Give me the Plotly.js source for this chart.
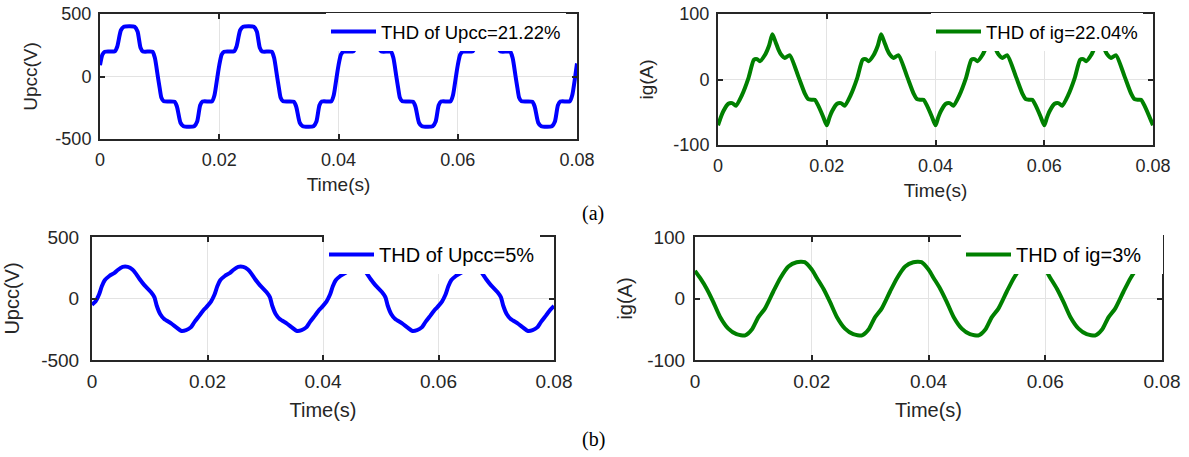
<!DOCTYPE html>
<html>
<head>
<meta charset="utf-8">
<script src="https://cdn.plot.ly/plotly-3.0.1.min.js"></script>
<style>
  html, body { margin: 0; padding: 0; background: #ffffff; }
  #chart { width: 1189px; height: 457px; }
</style>
</head>
<body>
<div id="chart"></div>
<script>
// ---------------- DATA ----------------
// (a) Upcc without compensation
const timeUpccA = [
  0, 0.0004, 0.0008, 0.0025, 0.0029, 0.0035, 0.004, 0.005, 0.0058, 0.0063, 0.0068, 0.0072, 0.0088, 0.0092, 0.0097, 0.01, 0.0103, 0.0107, 0.0125, 0.0129, 0.0135, 0.014, 0.015, 0.0158, 0.0163, 0.0168, 0.0172, 0.0188, 0.0192, 0.0197,
  0.02, 0.0204, 0.0208, 0.0225, 0.0229, 0.0235, 0.024, 0.025, 0.0258, 0.0263, 0.0268, 0.0272, 0.0288, 0.0292, 0.0297, 0.03, 0.0303, 0.0307, 0.0325, 0.0329, 0.0335, 0.034, 0.035, 0.0358, 0.0363, 0.0368, 0.0372, 0.0388, 0.0392, 0.0397,
  0.04, 0.0404, 0.0408, 0.0425, 0.0429, 0.0435, 0.044, 0.045, 0.0458, 0.0463, 0.0468, 0.0472, 0.0488, 0.0492, 0.0497, 0.05, 0.0503, 0.0507, 0.0525, 0.0529, 0.0535, 0.054, 0.055, 0.0558, 0.0563, 0.0568, 0.0572, 0.0588, 0.0592, 0.0597,
  0.06, 0.0604, 0.0608, 0.0625, 0.0629, 0.0635, 0.064, 0.065, 0.0658, 0.0663, 0.0668, 0.0672, 0.0688, 0.0692, 0.0697, 0.07, 0.0703, 0.0707, 0.0725, 0.0729, 0.0735, 0.074, 0.075, 0.0758, 0.0763, 0.0768, 0.0772, 0.0788, 0.0792, 0.0797, 0.08
];
const upccA = [
  90, 175, 198, 202, 240, 370, 398, 402, 398, 360, 230, 200, 198, 150, 0, -90, -170, -198, -202, -240, -370, -398, -402, -398, -360, -230, -200, -198, -150, 0,
  90, 175, 198, 202, 240, 370, 398, 402, 398, 360, 230, 200, 198, 150, 0, -90, -170, -198, -202, -240, -370, -398, -402, -398, -360, -230, -200, -198, -150, 0,
  90, 175, 198, 202, 240, 370, 398, 402, 398, 360, 230, 200, 198, 150, 0, -90, -170, -198, -202, -240, -370, -398, -402, -398, -360, -230, -200, -198, -150, 0,
  90, 175, 198, 202, 240, 370, 398, 402, 398, 360, 230, 200, 198, 150, 0, -90, -170, -198, -202, -240, -370, -398, -402, -398, -360, -230, -200, -198, -150, 0, 105
];

// (a) ig without compensation
const timeIgA = [
  0, 0.0005, 0.001, 0.0019, 0.0026, 0.0033, 0.0044, 0.0056, 0.0066, 0.0072, 0.0077, 0.0086, 0.0094, 0.01, 0.0106, 0.0111, 0.0116, 0.0123, 0.0132, 0.0148, 0.016, 0.0166, 0.0172, 0.0178, 0.0185, 0.0193,
  0.02, 0.0205, 0.021, 0.0219, 0.0226, 0.0233, 0.0244, 0.0256, 0.0266, 0.0272, 0.0277, 0.0286, 0.0294, 0.03, 0.0306, 0.0311, 0.0316, 0.0323, 0.0332, 0.0348, 0.036, 0.0366, 0.0372, 0.0378, 0.0385, 0.0393,
  0.04, 0.0405, 0.041, 0.0419, 0.0426, 0.0433, 0.0444, 0.0456, 0.0466, 0.0472, 0.0477, 0.0486, 0.0494, 0.05, 0.0506, 0.0511, 0.0516, 0.0523, 0.0532, 0.0548, 0.056, 0.0566, 0.0572, 0.0578, 0.0585, 0.0593,
  0.06, 0.0605, 0.061, 0.0619, 0.0626, 0.0633, 0.0644, 0.0656, 0.0666, 0.0672, 0.0677, 0.0686, 0.0694, 0.07, 0.0706, 0.0711, 0.0716, 0.0723, 0.0732, 0.0748, 0.076, 0.0766, 0.0772, 0.0778, 0.0785, 0.0793, 0.08
];
const igA = [
  -70, -58, -48, -37, -36, -40, -24, 2, 30, 31, 28, 37, 52, 69, 57, 46, 38, 33, 37, 4, -22, -30, -31, -31, -41, -56,
  -70, -58, -48, -37, -36, -40, -24, 2, 30, 31, 28, 37, 52, 69, 57, 46, 38, 33, 37, 4, -22, -30, -31, -31, -41, -56,
  -70, -58, -48, -37, -36, -40, -24, 2, 30, 31, 28, 37, 52, 69, 57, 46, 38, 33, 37, 4, -22, -30, -31, -31, -41, -56,
  -70, -58, -48, -37, -36, -40, -24, 2, 30, 31, 28, 37, 52, 69, 57, 46, 38, 33, 37, 4, -22, -30, -31, -31, -41, -56, -70
];

// (b) Upcc with compensation
const timeUpccB = [
  0, 0.0006, 0.0012, 0.0017, 0.0022, 0.003, 0.0039, 0.0044, 0.0053, 0.0062, 0.007, 0.0076, 0.0082, 0.0091, 0.0102, 0.0108, 0.0112, 0.0118, 0.0125, 0.0137, 0.0146, 0.0154, 0.0163, 0.0171, 0.0177, 0.0186, 0.0194,
  0.02, 0.0206, 0.0212, 0.0217, 0.0222, 0.023, 0.0239, 0.0244, 0.0253, 0.0262, 0.027, 0.0276, 0.0282, 0.0291, 0.0302, 0.0308, 0.0312, 0.0318, 0.0325, 0.0337, 0.0346, 0.0354, 0.0363, 0.0371, 0.0377, 0.0386, 0.0394,
  0.04, 0.0406, 0.0412, 0.0417, 0.0422, 0.043, 0.0439, 0.0444, 0.0453, 0.0462, 0.047, 0.0476, 0.0482, 0.0491, 0.0502, 0.0508, 0.0512, 0.0518, 0.0525, 0.0537, 0.0546, 0.0554, 0.0563, 0.0571, 0.0577, 0.0586, 0.0594,
  0.06, 0.0606, 0.0612, 0.0617, 0.0622, 0.063, 0.0639, 0.0644, 0.0653, 0.0662, 0.067, 0.0676, 0.0682, 0.0691, 0.0702, 0.0708, 0.0712, 0.0718, 0.0725, 0.0737, 0.0746, 0.0754, 0.0763, 0.0771, 0.0777, 0.0786, 0.0794, 0.08
];
const upccB = [
  -50, -25, 30, 100, 148, 183, 208, 230, 257, 257, 235, 202, 161, 107, 52, 11, -57, -126, -167, -202, -235, -262, -257, -235, -194, -139, -90,
  -60, -25, 30, 100, 148, 183, 208, 230, 257, 257, 235, 202, 161, 107, 52, 11, -57, -126, -167, -202, -235, -262, -257, -235, -194, -139, -90,
  -60, -25, 30, 100, 148, 183, 208, 230, 257, 257, 235, 202, 161, 107, 52, 11, -57, -126, -167, -202, -235, -262, -257, -235, -194, -139, -90,
  -60, -25, 30, 100, 148, 183, 208, 230, 257, 257, 235, 202, 161, 107, 52, 11, -57, -126, -167, -202, -235, -262, -257, -235, -194, -139, -90, -60
];

// (b) ig with compensation
const timeIgB = [
  0, 0.0009, 0.002, 0.0031, 0.0043, 0.0057, 0.0071, 0.0086, 0.0097, 0.0108, 0.012, 0.0134, 0.0146, 0.016, 0.0174, 0.0188,
  0.02, 0.0209, 0.022, 0.0231, 0.0243, 0.0257, 0.0271, 0.0286, 0.0297, 0.0308, 0.032, 0.0334, 0.0346, 0.036, 0.0374, 0.0388,
  0.04, 0.0409, 0.042, 0.0431, 0.0443, 0.0457, 0.0471, 0.0486, 0.0497, 0.0508, 0.052, 0.0534, 0.0546, 0.056, 0.0574, 0.0588,
  0.06, 0.0609, 0.062, 0.0631, 0.0643, 0.0657, 0.0671, 0.0686, 0.0697, 0.0708, 0.072, 0.0734, 0.0746, 0.076, 0.0774, 0.0788, 0.08
];
const igB = [
  45, 33, 16, -5, -30, -49, -58, -60, -51, -31, -16, 11, 33, 52, 59, 59,
  47, 33, 16, -5, -30, -49, -58, -60, -51, -31, -16, 11, 33, 52, 59, 59,
  47, 33, 16, -5, -30, -49, -58, -60, -51, -31, -16, 11, 33, 52, 59, 59,
  47, 33, 16, -5, -30, -49, -58, -60, -51, -31, -16, 11, 33, 52, 59, 59, 48
];

const legendNames = ['THD of Upcc=21.22%', 'THD of ig=22.04%', 'THD of Upcc=5%', 'THD of ig=3%'];
const xTickVals = [0, 0.02, 0.04, 0.06, 0.08];
const xTickText = ['0', '0.02', '0.04', '0.06', '0.08'];
const upccTickVals = [-500, 0, 500];
const upccTickText = ['-500', '0', '500'];
const igTickVals = [-100, 0, 100];
const igTickText = ['-100', '0', '100'];
const xTitle = 'Time(s)';
const upccTitle = 'Upcc(V)';
const igTitle = 'ig(A)';
const panelLabels = ['(a)', '(b)'];

// ---------------- STYLE / LAYOUT ----------------
const W = 1189, H = 457;
const BLUE = '#0000ff', GREEN = '#008000';
const FONT = 'Liberation Sans, Arial, sans-serif';
const AX = '#262626';
// invisible padding so the white legend box of panel (b)-right reaches the plot edge
const PAD4 = '\u00a0\u00a0\u00a0';

function px2x(p) { return p / W; }
function px2y(p) { return 1 - p / H; }

const traces = [
  { x: timeUpccA, y: upccA, xaxis: 'x', yaxis: 'y', legend: 'legend', color: BLUE, name: legendNames[0] },
  { x: timeIgA, y: igA, xaxis: 'x2', yaxis: 'y2', legend: 'legend2', color: GREEN, name: legendNames[1] },
  { x: timeUpccB, y: upccB, xaxis: 'x3', yaxis: 'y3', legend: 'legend3', color: BLUE, name: legendNames[2] },
  { x: timeIgB, y: igB, xaxis: 'x4', yaxis: 'y4', legend: 'legend4', color: GREEN, name: legendNames[3] + PAD4 }
].map(t => ({
  type: 'scatter', mode: 'lines', x: t.x, y: t.y, xaxis: t.xaxis, yaxis: t.yaxis,
  legend: t.legend, name: t.name, showlegend: true,
  line: { color: t.color, width: 4, shape: 'spline', smoothing: 0.6 }
}));

function xAxis(dom, anchor, fs, standoff) {
  return {
    domain: dom, anchor: anchor, range: [0, 0.08],
    tickmode: 'array', tickvals: xTickVals, ticktext: xTickText,
    ticks: 'inside', ticklen: 5, tickwidth: 2, tickcolor: AX,
    showline: true, linecolor: AX, linewidth: 2, mirror: 'ticks',
    showgrid: true, gridcolor: '#e3e3e3', gridwidth: 1, zeroline: false,
    ticklabelstandoff: 3,
    tickfont: { family: FONT, size: fs, color: AX },
    title: { text: xTitle, font: { family: FONT, size: fs + 1, color: AX }, standoff: standoff },
    automargin: false, fixedrange: true
  };
}
function yAxis(dom, anchor, range, vals, text, title, fs, labelOff, standoff) {
  return {
    domain: dom, anchor: anchor, range: range,
    tickmode: 'array', tickvals: vals, ticktext: text,
    ticks: 'inside', ticklen: 5, tickwidth: 2, tickcolor: AX,
    showline: true, linecolor: AX, linewidth: 2, mirror: 'ticks',
    showgrid: true, gridcolor: '#e3e3e3', gridwidth: 1, zeroline: false,
    ticklabelstandoff: labelOff,
    tickfont: { family: FONT, size: fs, color: AX },
    title: { text: title, font: { family: FONT, size: fs + 1, color: AX }, standoff: standoff },
    automargin: false, fixedrange: true
  };
}
function legendAt(xpx, ypx, fs) {
  return {
    x: px2x(xpx), y: px2y(ypx), xanchor: 'left', yanchor: 'top',
    bgcolor: '#ffffff', borderwidth: 0, itemwidth: 45,
    font: { family: FONT, size: fs, color: '#000000' }
  };
}

const layout = {
  width: W, height: H,
  margin: { l: 0, r: 0, t: 0, b: 0, pad: 0 },
  paper_bgcolor: '#ffffff', plot_bgcolor: '#ffffff',
  showlegend: true,
  xaxis: xAxis([px2x(100), px2x(577)], 'y', 18, 9),
  yaxis: yAxis([px2y(139), px2y(14)], 'x', [-500, 500], upccTickVals, upccTickText, upccTitle, 18, 3, 13),
  xaxis2: xAxis([px2x(718), px2x(1153)], 'y2', 18, 9),
  yaxis2: yAxis([px2y(145), px2y(14)], 'x2', [-100, 100], igTickVals, igTickText, igTitle, 18, 3, 15),
  xaxis3: xAxis([px2x(92), px2x(554)], 'y3', 19, 12),
  yaxis3: yAxis([px2y(360), px2y(237)], 'x3', [-500, 500], upccTickVals, upccTickText, upccTitle, 19, 7, 16),
  xaxis4: xAxis([px2x(695), px2x(1162)], 'y4', 19, 12),
  yaxis4: yAxis([px2y(360), px2y(237)], 'x4', [-100, 100], igTickVals, igTickText, igTitle, 19, 4, 9),
  legend: legendAt(326, 13, 18.5),
  legend2: legendAt(931, 13, 18.5),
  legend3: legendAt(324, 235, 20),
  legend4: legendAt(961, 235, 20),
  annotations: [
    { text: panelLabels[0], xref: 'paper', yref: 'paper', x: px2x(593), y: px2y(213), showarrow: false,
      xanchor: 'center', yanchor: 'middle', font: { family: 'Liberation Serif, Times New Roman, serif', size: 20, color: '#000' } },
    { text: panelLabels[1], xref: 'paper', yref: 'paper', x: px2x(593), y: px2y(439), showarrow: false,
      xanchor: 'center', yanchor: 'middle', font: { family: 'Liberation Serif, Times New Roman, serif', size: 20, color: '#000' } }
  ]
};

Plotly.newPlot('chart', traces, layout, { staticPlot: true, displayModeBar: false });
</script>
</body>
</html>
